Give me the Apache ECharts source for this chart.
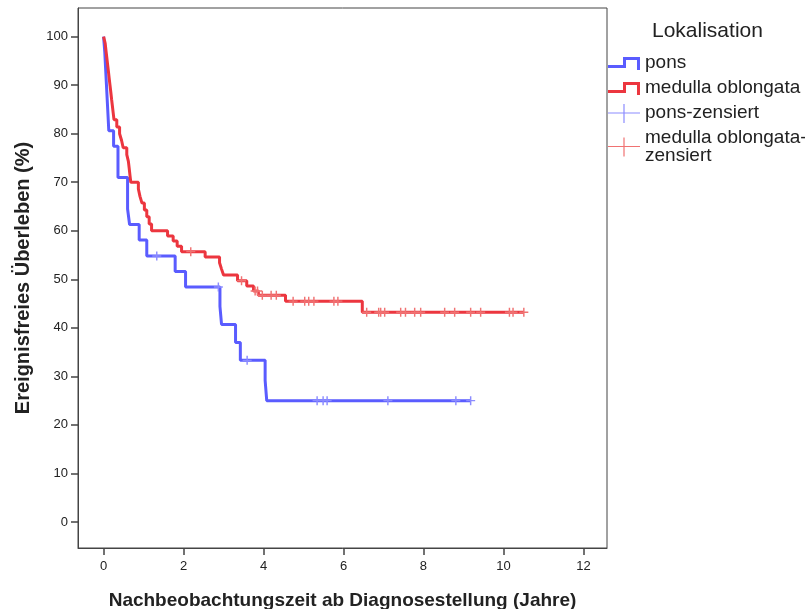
<!DOCTYPE html>
<html>
<head>
<meta charset="utf-8">
<script src="https://cdn.jsdelivr.net/npm/echarts@6/dist/echarts.min.js"></script>
<style>
  html, body { margin: 0; padding: 0; background: #fff; }
  #main { width: 805px; height: 609px; }
</style>
</head>
<body>
<div id="main"></div>
<script>
// Kaplan-Meier Kurven
var ponsTimes = [0, 0.03, 0.05, 0.07, 0.09, 0.11, 0.13, 0.25, 0.36, 0.60, 0.65, 0.89, 1.08, 1.79, 2.05, 2.91, 2.95, 3.30, 3.42, 4.04, 4.08, 9.18];
var ponsSurv  = [100, 96.8, 93.5, 90.3, 87.1, 83.9, 80.6, 77.4, 71.0, 64.5, 61.3, 58.1, 54.8, 51.6, 48.4, 44.4, 40.7, 37.0, 33.3, 29.2, 25.0, 25.0];

var medTimes = [0, 0.04, 0.06, 0.08, 0.10, 0.12, 0.14, 0.16, 0.18, 0.20, 0.22, 0.24, 0.26, 0.33, 0.40, 0.45, 0.49, 0.58, 0.62, 0.64, 0.66, 0.68,
                0.87, 0.91, 0.96, 1.02, 1.08, 1.14, 1.20, 1.60, 1.74, 1.84, 1.95, 2.54, 2.90, 2.95, 3.00, 3.35, 3.58, 3.75, 3.87, 4.55, 6.47, 10.51];
var medSurv  = [100, 98.6, 97.1, 95.7, 94.3, 92.9, 91.4, 90.0, 88.6, 87.1, 85.7, 84.3, 82.9, 81.4, 80.0, 78.6, 77.1, 75.7, 74.3, 72.9, 71.4, 70.0,
                68.6, 67.1, 65.7, 64.3, 62.9, 61.4, 60.0, 58.9, 57.9, 56.8, 55.7, 54.6, 53.4, 52.1, 50.9, 49.7, 48.6, 47.6, 46.7, 45.5, 43.2, 43.2];

var ponsCensTimes = [1.33, 2.87, 3.59, 5.34, 5.49, 5.59, 7.11, 8.81, 9.18];
var ponsCensSurv  = [54.8, 48.4, 33.3, 25.0, 25.0, 25.0, 25.0, 25.0, 25.0];

var medCensTimes = [2.18, 3.45, 3.79, 3.85, 3.97, 4.19, 4.32, 4.74, 5.03, 5.13, 5.26, 5.76, 5.86, 6.58, 6.88, 6.93, 7.03, 7.43, 7.55, 7.78, 7.93, 8.53, 8.78, 9.18, 9.43, 10.15, 10.24, 10.51];
var medCensSurv  = [55.7, 49.7, 47.6, 47.6, 46.7, 46.7, 46.7, 45.5, 45.5, 45.5, 45.5, 45.5, 45.5, 43.2, 43.2, 43.2, 43.2, 43.2, 43.2, 43.2, 43.2, 43.2, 43.2, 43.2, 43.2, 43.2, 43.2, 43.2];

var xTicks = [0, 2, 4, 6, 8, 10, 12];
var yTicks = [0, 10, 20, 30, 40, 50, 60, 70, 80, 90, 100];

function pairs(xs, ys) {
    return xs.map(function (x, i) { return [x, ys[i]]; });
}

var blue = '#5a5cff', red = '#ec363f';
var blueLight = '#8c8cff', redLight = '#f07272';

var plusSymbol = 'path://M0,4.2H10V5.8H0Z M4.2,0H5.8V10H4.2Z';
var stepIcon = 'path://M0,0h0.01v0.01h-0.01Z M0,20h0.01v0.01h-0.01Z M0,12H15V4H32V17H29V7H18V15H0Z';
var plusIcon = 'path://M0,0h0.01v0.01h-0.01Z M0,9.5H32V10.6H0Z M15.4,1H16.6V20H15.4Z';

var font = 'Liberation Sans, Arial, sans-serif';

var myChart = echarts.init(document.getElementById('main'));

var option = {
    animation: false,
    backgroundColor: '#fff',
    textStyle: { fontFamily: font },
    title: {
        text: 'Lokalisation',
        left: 652,
        top: 21,
        padding: 0,
        textStyle: { fontSize: 21, fontWeight: 'normal', color: '#222', fontFamily: font }
    },
    legend: {
        orient: 'vertical',
        left: 608,
        top: 53,
        padding: 0,
        itemGap: 5,
        itemWidth: 32,
        itemHeight: 20,
        selectedMode: false,
        textStyle: { fontSize: 19, lineHeight: 18, color: '#222', fontFamily: font },
        formatter: function (name) {
            return name === 'medulla oblongata-zensiert' ? 'medulla oblongata-\nzensiert' : name;
        },
        data: [
            { name: 'pons', icon: stepIcon, itemStyle: { color: blue, borderWidth: 0 } },
            { name: 'medulla oblongata', icon: stepIcon, itemStyle: { color: red, borderWidth: 0 } },
            { name: 'pons-zensiert', icon: plusIcon, itemStyle: { color: blueLight, borderWidth: 0 } },
            { name: 'medulla oblongata-zensiert', icon: plusIcon, itemStyle: { color: redLight, borderWidth: 0 } }
        ]
    },
    grid: {
        left: 78,
        right: 198,
        top: 8,
        bottom: 61,
        outerBoundsMode: 'none',
        show: true,
        borderColor: '#444',
        borderWidth: 1,
        backgroundColor: '#fff'
    },
    xAxis: {
        type: 'value',
        min: -0.64,
        max: 12.59,
        name: 'Nachbeobachtungszeit ab Diagnosestellung (Jahre)',
        nameLocation: 'middle',
        nameGap: 43,
        nameTextStyle: { fontSize: 19, fontWeight: 'bold', color: '#222', fontFamily: font },
        axisLine: { show: true, onZero: false, lineStyle: { color: '#444', width: 1 } },
        axisTick: { show: true, length: 7, customValues: xTicks, lineStyle: { color: '#444', width: 1.5 } },
        axisLabel: { customValues: xTicks, margin: 12, fontSize: 13, color: '#222', fontFamily: font },
        splitLine: { show: false }
    },
    yAxis: {
        type: 'value',
        min: -5.36,
        max: 105.9,
        name: 'Ereignisfreies Überleben (%)',
        nameLocation: 'middle',
        nameGap: 45,
        nameTextStyle: { fontSize: 20, fontWeight: 'bold', color: '#222', fontFamily: font },
        axisLine: { show: true, onZero: false, lineStyle: { color: '#444', width: 1 } },
        axisTick: { show: true, length: 7, customValues: yTicks, lineStyle: { color: '#444', width: 1.5 } },
        axisLabel: { customValues: yTicks, margin: 10, fontSize: 13, color: '#222', fontFamily: font },
        splitLine: { show: false }
    },
    series: [
        {
            name: 'pons',
            type: 'line',
            step: 'end',
            showSymbol: false,
            color: blue,
            lineStyle: { width: 3, color: blue },
            data: pairs(ponsTimes, ponsSurv),
            z: 2
        },
        {
            name: 'medulla oblongata',
            type: 'line',
            step: 'end',
            showSymbol: false,
            color: red,
            lineStyle: { width: 3, color: red },
            data: pairs(medTimes, medSurv),
            z: 3
        },
        {
            name: 'pons-zensiert',
            type: 'scatter',
            symbol: plusSymbol,
            symbolSize: [9, 9],
            itemStyle: { color: blueLight, opacity: 1 },
            data: pairs(ponsCensTimes, ponsCensSurv),
            z: 4
        },
        {
            name: 'medulla oblongata-zensiert',
            type: 'scatter',
            symbol: plusSymbol,
            symbolSize: [9, 9],
            itemStyle: { color: redLight, opacity: 1 },
            data: pairs(medCensTimes, medCensSurv),
            z: 5
        }
    ]
};

myChart.setOption(option);
</script>
</body>
</html>
